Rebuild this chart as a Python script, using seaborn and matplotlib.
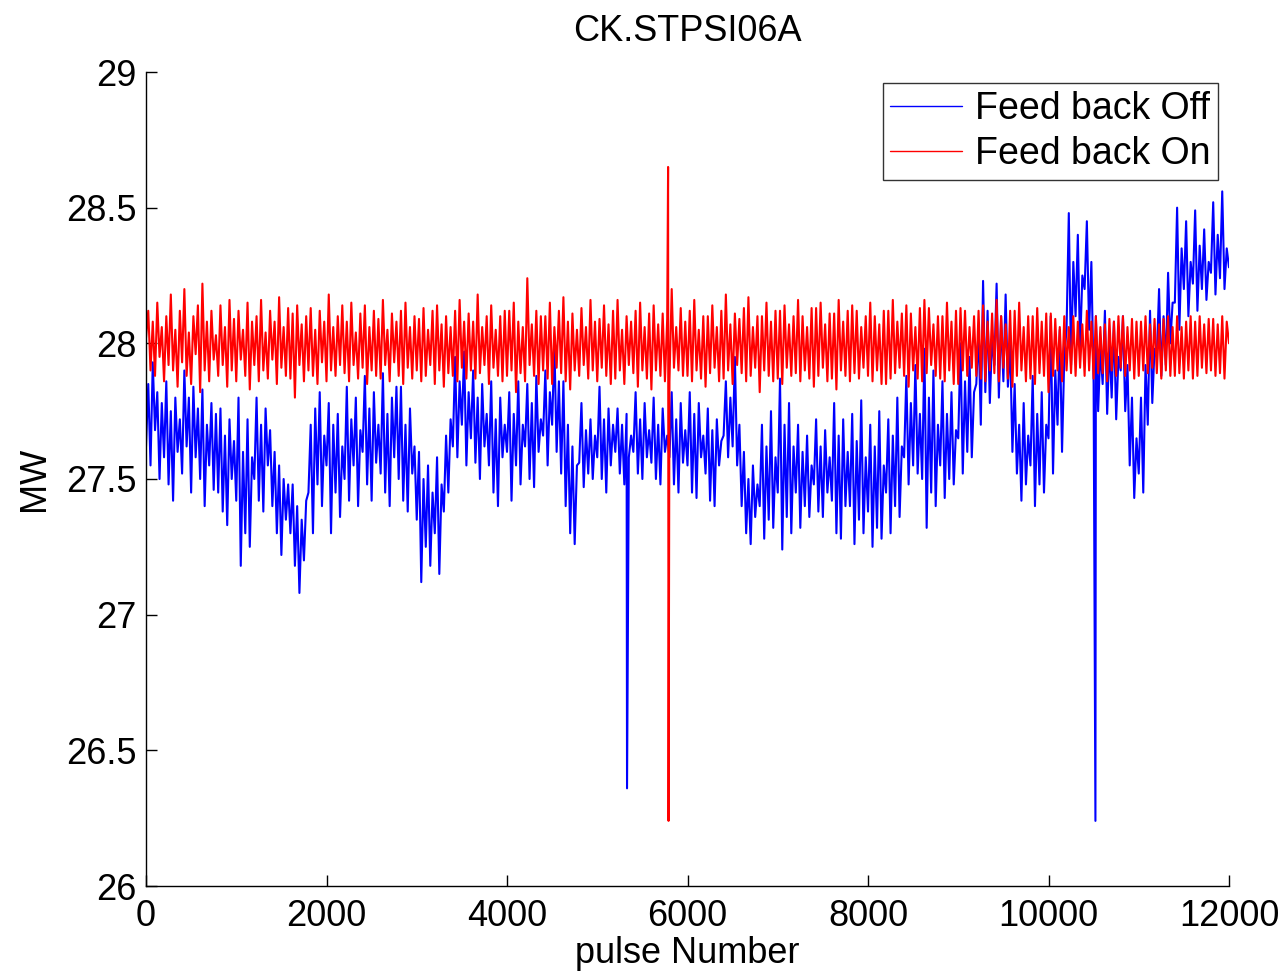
import numpy as np
import pandas as pd
import matplotlib
matplotlib.use("Agg")
import matplotlib.pyplot as plt
import seaborn as sns

step = 25
blue_values = [
    27.62, 27.85, 27.55, 27.93, 27.68, 27.82, 27.50, 27.78,
    27.58, 27.86, 27.48, 27.75, 27.42, 27.80, 27.60, 27.72,
    27.52, 27.90, 27.62, 27.80, 27.45, 27.84, 27.58, 27.76,
    27.50, 27.83, 27.40, 27.70, 27.55, 27.78, 27.46, 27.74,
    27.45, 27.76, 27.38, 27.66, 27.33, 27.72, 27.50, 27.64,
    27.42, 27.80, 27.18, 27.60, 27.30, 27.72, 27.25, 27.58,
    27.50, 27.80, 27.42, 27.70, 27.38, 27.76, 27.55, 27.68,
    27.40, 27.60, 27.30, 27.55, 27.22, 27.50, 27.35, 27.48,
    27.30, 27.48, 27.18, 27.40, 27.08, 27.35, 27.20, 27.42,
    27.45, 27.70, 27.30, 27.76, 27.48, 27.82, 27.40, 27.66,
    27.55, 27.78, 27.30, 27.70, 27.45, 27.74, 27.36, 27.62,
    27.50, 27.84, 27.42, 27.72, 27.55, 27.80, 27.40, 27.68,
    27.60, 27.88, 27.48, 27.76, 27.42, 27.82, 27.56, 27.70,
    27.52, 27.89, 27.45, 27.74, 27.40, 27.80, 27.58, 27.84,
    27.50, 27.84, 27.42, 27.70, 27.38, 27.76, 27.52, 27.62,
    27.35, 27.60, 27.12, 27.50, 27.25, 27.55, 27.18, 27.45,
    27.30, 27.58, 27.15, 27.48, 27.38, 27.66, 27.45, 27.72,
    27.62, 27.95, 27.58, 27.86, 27.70, 27.97, 27.55, 27.82,
    27.65, 27.90, 27.56, 27.80, 27.50, 27.85, 27.62, 27.74,
    27.55, 27.86, 27.45, 27.72, 27.40, 27.80, 27.58, 27.70,
    27.60, 27.82, 27.42, 27.74, 27.55, 27.86, 27.48, 27.70,
    27.62, 27.85, 27.50, 27.78, 27.47, 27.88, 27.60, 27.72,
    27.66, 27.90, 27.55, 27.82, 27.70, 28.00, 27.60, 27.86,
    27.52, 27.86, 27.40, 27.70, 27.30, 27.62, 27.26, 27.55,
    27.56, 27.78, 27.47, 27.68, 27.52, 27.72, 27.50, 27.66,
    27.58, 27.84, 27.50, 27.72, 27.45, 27.76, 27.55, 27.70,
    27.60, 27.76, 27.52, 27.70, 27.48, 27.74, 27.58, 27.66,
    27.60, 27.82, 27.52, 27.72, 27.50, 27.78, 27.58, 27.68,
    27.56, 27.80, 27.50, 27.70, 27.48, 27.76, 27.60, 27.66,
    27.58, 27.82, 27.48, 27.72, 27.45, 27.78, 27.56, 27.68,
    27.55, 27.82, 27.45, 27.74, 27.43, 27.78, 27.58, 27.66,
    27.52, 27.76, 27.42, 27.68, 27.40, 27.72, 27.55, 27.64,
    27.66, 27.86, 27.58, 27.80, 27.62, 27.95, 27.55, 27.70,
    27.40, 27.60, 27.30, 27.50, 27.26, 27.55, 27.36, 27.48,
    27.40, 27.70, 27.28, 27.62, 27.35, 27.75, 27.32, 27.58,
    27.45, 27.87, 27.24, 27.70, 27.36, 27.78, 27.30, 27.62,
    27.45, 27.70, 27.32, 27.60, 27.40, 27.66, 27.36, 27.55,
    27.48, 27.72, 27.38, 27.62, 27.36, 27.68, 27.45, 27.58,
    27.42, 27.78, 27.30, 27.66, 27.28, 27.72, 27.40, 27.60,
    27.40, 27.74, 27.26, 27.64, 27.35, 27.79, 27.30, 27.58,
    27.38, 27.70, 27.25, 27.62, 27.32, 27.75, 27.28, 27.55,
    27.45, 27.72, 27.30, 27.66, 27.40, 27.80, 27.36, 27.62,
    27.58, 27.88, 27.48, 27.78, 27.55, 27.92, 27.52, 27.74,
    27.50, 27.98, 27.32, 27.80, 27.45, 27.90, 27.40, 27.70,
    27.55, 27.86, 27.43, 27.74, 27.50, 27.82, 27.48, 27.68,
    27.65, 28.00, 27.52, 27.86, 27.60, 27.95, 27.58, 27.82,
    27.85, 28.05, 27.70, 28.23, 27.82, 28.12, 27.78, 28.02,
    27.92, 28.22, 27.80, 28.10, 27.86, 28.18, 27.84, 28.00,
    27.60, 27.85, 27.52, 27.70, 27.42, 27.78, 27.48, 27.66,
    27.55, 27.88, 27.40, 27.74, 27.48, 27.82, 27.45, 27.70,
    27.65, 28.10, 27.52, 27.90, 27.70, 28.05, 27.60, 27.95,
    28.05, 28.48, 27.92, 28.30, 28.10, 28.40, 27.98, 28.25,
    28.20, 28.45, 28.05, 28.30, 27.85, 28.10, 27.75, 27.98,
    27.85, 28.12, 27.74, 28.00, 27.80, 28.08, 27.72, 27.95,
    27.90, 28.10, 27.75, 27.92, 27.55, 27.80, 27.43, 27.65,
    27.52, 27.80, 27.45, 27.92, 27.70, 28.12, 27.78, 27.98,
    27.95, 28.20, 27.88, 28.10, 27.92, 28.26, 28.00, 28.15,
    28.15, 28.50, 28.05, 28.35, 28.20, 28.45, 28.10, 28.30,
    28.22, 28.49, 28.12, 28.36, 28.20, 28.42, 28.16, 28.30,
    28.26, 28.52, 28.18, 28.40, 28.24, 28.56, 28.20, 28.35,
    28.28,
]
red_values = [
    28.02, 28.12, 27.90, 28.08, 27.88, 28.15, 27.95, 28.06,
    27.86, 28.10, 27.92, 28.18, 27.90, 28.05, 27.84, 28.12,
    27.93, 28.20, 27.88, 28.04, 27.85, 28.10, 27.96, 28.14,
    27.82, 28.22, 27.90, 28.08, 27.86, 28.12, 27.94, 28.03,
    27.88, 28.14, 27.92, 28.06, 27.84, 28.16, 27.90, 28.09,
    27.86, 28.12, 27.94, 28.05, 27.88, 28.15, 27.83, 28.08,
    27.92, 28.10, 27.86, 28.16, 27.90, 28.04, 27.87, 28.12,
    27.94, 28.08, 27.85, 28.17, 27.91, 28.06, 27.88, 28.13,
    27.87, 28.11, 27.80, 28.14, 27.92, 28.07, 27.86, 28.10,
    27.90, 28.13, 27.88, 28.05, 27.85, 28.12, 27.93, 28.08,
    27.86, 28.18, 27.90, 28.06, 27.88, 28.10, 27.92, 28.14,
    27.89, 28.08, 27.86, 28.15, 27.92, 28.04, 27.87, 28.11,
    27.91, 28.14, 27.85, 28.06, 27.90, 28.12, 27.88, 28.09,
    27.87, 28.16, 27.92, 28.05, 27.86, 28.11, 27.93, 28.08,
    27.88, 28.12, 27.85, 28.15, 27.91, 28.06, 27.87, 28.10,
    27.90, 28.09, 27.86, 28.13, 27.88, 28.05, 27.92, 28.12,
    27.85, 28.14, 27.90, 28.07, 27.84, 28.10, 27.89, 28.06,
    27.88, 28.12, 27.86, 28.16, 27.91, 28.08, 27.87, 28.11,
    27.90, 28.08, 27.87, 28.18, 27.89, 28.06, 27.92, 28.10,
    27.85, 28.14, 27.91, 28.05, 27.88, 28.10, 27.86, 28.12,
    27.88, 28.12, 27.90, 28.15, 27.82, 28.08, 27.89, 28.06,
    27.86, 28.24, 27.92, 28.07, 27.88, 28.12, 27.85, 28.10,
    27.90, 28.10, 27.87, 28.15, 27.85, 28.06, 27.91, 28.12,
    27.89, 28.17, 27.86, 28.08, 27.83, 28.11, 27.90, 28.05,
    27.88, 28.13, 27.92, 28.06, 27.87, 28.16, 27.90, 28.08,
    27.86, 28.09, 27.91, 28.14, 27.88, 28.07, 27.85, 28.12,
    27.87, 28.16, 27.90, 28.05, 27.85, 28.10, 27.92, 28.08,
    27.89, 28.12, 27.84, 28.15, 27.90, 28.06, 27.87, 28.11,
    27.83, 28.14, 27.90, 28.07, 27.88, 28.11, 27.86, 28.09,
    27.86, 28.20, 27.91, 28.06, 27.90, 28.13, 27.88, 28.08,
    27.88, 28.12, 27.86, 28.16, 27.90, 28.05, 27.87, 28.10,
    27.84, 28.10, 27.89, 28.14, 27.91, 28.06, 27.86, 28.12,
    27.87, 28.18, 27.90, 28.07, 27.85, 28.11, 27.92, 28.09,
    27.89, 28.13, 27.86, 28.17, 27.88, 28.06, 27.91, 28.10,
    27.82, 28.10, 27.90, 28.15, 27.88, 28.08, 27.86, 28.12,
    27.87, 28.12, 27.85, 28.14, 27.91, 28.07, 27.88, 28.10,
    27.89, 28.16, 27.86, 28.10, 27.90, 28.06, 27.87, 28.13,
    27.84, 28.13, 27.88, 28.15, 27.91, 28.07, 27.86, 28.11,
    27.87, 28.11, 27.83, 28.16, 27.90, 28.08, 27.88, 28.12,
    27.86, 28.14, 27.89, 28.12, 27.87, 28.06, 27.91, 28.10,
    27.88, 28.15, 27.86, 28.10, 27.90, 28.07, 27.85, 28.12,
    27.85, 28.12, 27.87, 28.16, 27.89, 28.08, 27.91, 28.11,
    27.88, 28.14, 27.84, 28.11, 27.90, 28.06, 27.87, 28.13,
    27.86, 28.16, 27.89, 28.13, 27.92, 28.07, 27.88, 28.10,
    27.87, 28.10, 27.86, 28.15, 27.90, 28.08, 27.85, 28.12,
    27.85, 28.13, 27.90, 28.12, 27.88, 28.06, 27.91, 28.10,
    27.88, 28.12, 27.87, 28.14, 27.86, 28.08, 27.90, 28.11,
    27.89, 28.16, 27.86, 28.10, 27.91, 28.07, 27.87, 28.12,
    27.84, 28.12, 27.88, 28.15, 27.90, 28.06, 27.86, 28.10,
    27.87, 28.10, 27.85, 28.13, 27.89, 28.08, 27.88, 28.11,
    27.82, 28.11, 27.88, 28.09, 27.90, 28.06, 27.86, 28.10,
    27.90, 28.06, 27.89, 28.10, 27.88, 28.08, 27.91, 28.07,
    27.88, 28.12, 27.90, 28.08, 27.87, 28.10, 27.89, 28.06,
    27.89, 28.07, 27.86, 28.09, 27.90, 28.08, 27.88, 28.10,
    27.91, 28.10, 27.88, 28.06, 27.90, 28.09, 27.87, 28.08,
    27.88, 28.08, 27.90, 28.10, 27.89, 28.07, 27.91, 28.09,
    27.89, 28.07, 27.87, 28.09, 27.90, 28.10, 27.88, 28.06,
    27.88, 28.10, 27.89, 28.06, 27.87, 28.08, 27.90, 28.10,
    27.87, 28.08, 27.88, 28.10, 27.91, 28.07, 27.89, 28.09,
    27.90, 28.09, 27.88, 28.07, 27.89, 28.10, 27.87, 28.08,
    28.00,
]
# single-sample spikes
blue_spike_x = [5330, 10520]
blue_spike_y = [26.36, 26.24]
red_spike_x = [5785, 5790]
red_spike_y = [28.65, 26.24]

series_names = ["Feed back Off", "Feed back On"]
title = "CK.STPSI06A"
xlabel = "pulse Number"
ylabel = "MW"
xticks = [0, 2000, 4000, 6000, 8000, 10000, 12000]
yticks = [26, 26.5, 27, 27.5, 28, 28.5, 29]
ytick_labels = ["26", "26.5", "27", "27.5", "28", "28.5", "29"]


def build(values, sx, sy):
    x = list(np.arange(len(values)) * step) + list(sx)
    y = list(values) + list(sy)
    order = np.argsort(x, kind="stable")
    return np.asarray(x)[order], np.asarray(y)[order]


bx, by = build(blue_values, blue_spike_x, blue_spike_y)
rx, ry = build(red_values, red_spike_x, red_spike_y)
df = pd.concat([
    pd.DataFrame({"pulse": bx, "MW": by, "series": series_names[0]}),
    pd.DataFrame({"pulse": rx, "MW": ry, "series": series_names[1]}),
], ignore_index=True)

sns.set_style("white")
plt.rcParams["font.family"] = ["Liberation Sans", "DejaVu Sans"]
plt.rcParams["text.color"] = "black"
plt.rcParams["axes.labelcolor"] = "black"

fig = plt.figure(figsize=(12.86, 9.73), dpi=100)
ax = fig.add_axes([146 / 1286, 1 - 886 / 973, (1229 - 146) / 1286, (886 - 72) / 973])

sns.lineplot(data=df, x="pulse", y="MW", hue="series",
             palette={series_names[0]: "#0000ff", series_names[1]: "#ff0000"},
             estimator=None, sort=True, linewidth=1.5, ax=ax, legend=True)

ax.set_xlim(0, 12000)
ax.set_ylim(26, 29)
ax.set_xticks(xticks)
ax.set_xticklabels([str(t) for t in xticks])
ax.set_yticks(yticks)
ax.set_yticklabels(ytick_labels)
ax.tick_params(direction="in", length=8, width=1, labelsize=26, pad=9,
               colors="black", bottom=True, left=True)
ax.tick_params(axis="y", pad=7)
for s in ["top", "right"]:
    ax.spines[s].set_visible(False)
for s in ["left", "bottom"]:
    ax.spines[s].set_color("black")
    ax.spines[s].set_linewidth(1)

ax.set_title(title, fontsize=26, pad=22, color="black")
ax.set_xlabel(xlabel, fontsize=26, labelpad=2, color="black")
ax.set_ylabel(ylabel, fontsize=26, labelpad=10, color="black")

handles, labels = ax.get_legend_handles_labels()
leg = ax.legend(handles, labels, loc="upper right", fontsize=27, frameon=True,
                fancybox=False, edgecolor="black", handlelength=1.9,
                borderaxespad=0.3, borderpad=0.2, labelspacing=0.25,
                handletextpad=0.35)
leg.get_frame().set_linewidth(1)
for h in leg.get_lines():
    h.set_linewidth(1)
for t in leg.get_texts():
    t.set_color("black")

fig.savefig("out.png", dpi=100, facecolor="white")
